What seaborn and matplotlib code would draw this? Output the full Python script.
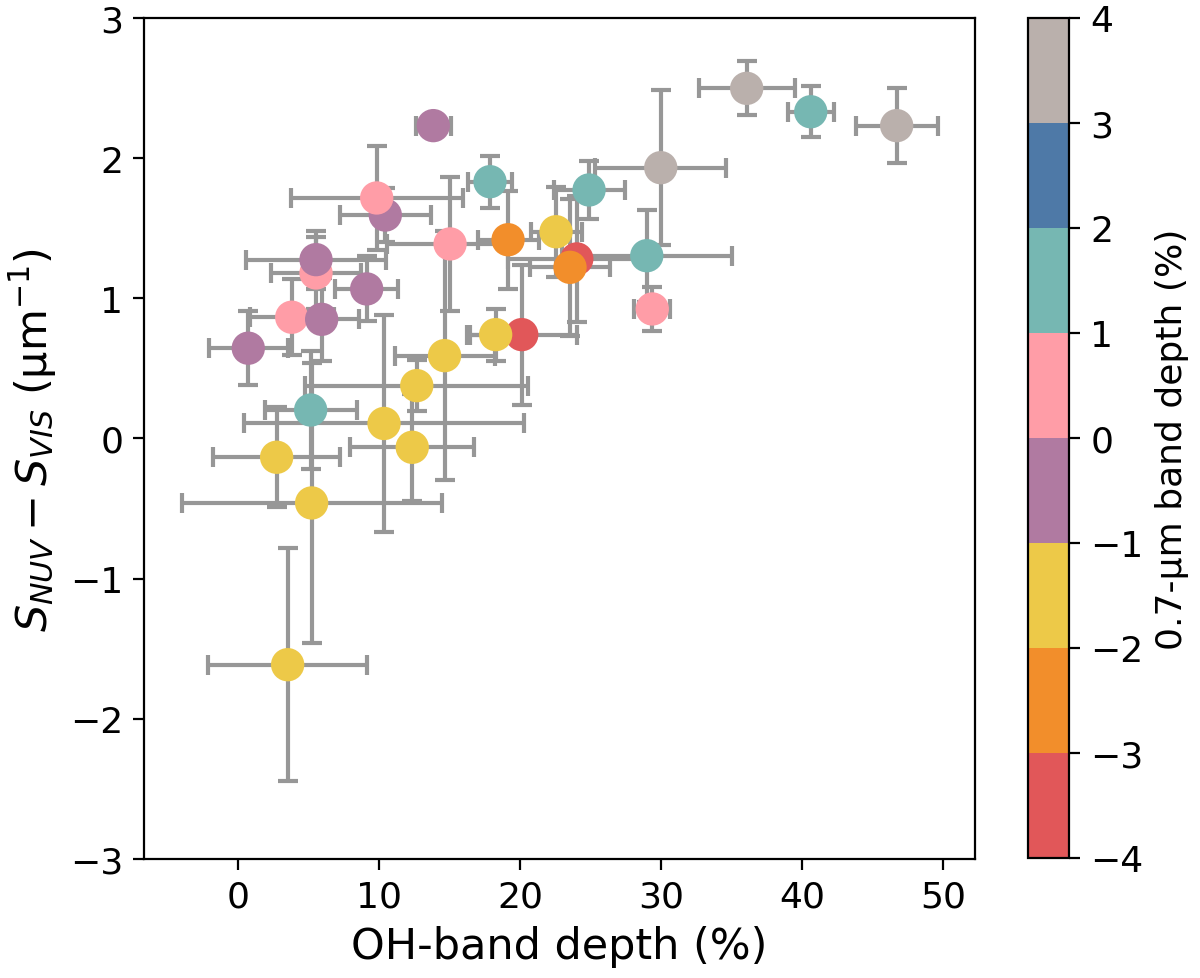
import numpy as np
import pandas as pd
import seaborn as sns
import matplotlib
matplotlib.use('Agg')
import matplotlib.pyplot as plt
from matplotlib.colors import ListedColormap, BoundaryNorm
from matplotlib.cm import ScalarMappable

# OH-band depth (%) and its error
oh_depth = [0.75, 3.83, 5.95, 5.55, 5.55, 9.14, 10.46, 9.85, 15.05, 13.86,
            5.17, 2.76, 5.24, 3.54, 10.37, 12.69, 12.37, 14.66, 20.13, 18.28,
            22.56, 19.16, 24.03, 23.55, 17.88, 24.90, 28.99, 29.38, 29.98, 36.07,
            40.61, 46.70]
oh_err = [2.79, 2.96, 2.67, 3.22, 4.96, 2.22, 3.21, 6.10, 4.47, 1.24,
          3.25, 4.51, 9.21, 5.63, 9.92, 7.91, 4.41, 3.54, 3.90, 1.82,
          1.81, 2.16, 4.87, 2.86, 1.59, 2.52, 6.02, 1.28, 4.64, 3.40,
          1.63, 2.91]

# spectral slope difference S_NUV - S_VIS (um^-1) and its error
slope_diff = [0.644, 0.865, 0.850, 1.181, 1.276, 1.067, 1.594, 1.716, 1.388, 2.232,
              0.203, -0.134, -0.460, -1.614, 0.107, 0.377, -0.063, 0.591, 0.741, 0.741,
              1.475, 1.418, 1.281, 1.221, 1.832, 1.773, 1.304, 0.924, 1.932, 2.498,
              2.331, 2.232]
slope_err = [0.264, 0.273, 0.295, 0.255, 0.207, 0.232, 0.193, 0.373, 0.48, 0.03,
             0.42, 0.357, 1.0, 0.83, 0.776, 0.182, 0.381, 0.89, 0.50, 0.185,
             0.32, 0.35, 0.45, 0.49, 0.185, 0.21, 0.328, 0.155, 0.555, 0.193,
             0.183, 0.268]

# 0.7-um band depth (%)
band07 = [-0.5, 0.5, -0.5, 0.5, -0.5, -0.5, -0.5, 0.5, 0.5, -0.5,
          1.5, -1.5, -1.5, -1.5, -1.5, -1.5, -1.5, -1.5, -3.5, -1.5,
          -1.5, -2.5, -3.5, -2.5, 1.5, 1.5, 1.5, 0.5, 3.5, 3.5,
          1.5, 3.5]

bin_edges = [-4, -3, -2, -1, 0, 1, 2, 3, 4]
bin_colors = ['#E15759', '#F28E2B', '#EDC948', '#B07AA1',
              '#FF9DA7', '#76B7B2', '#4E79A7', '#BAB0AC']

df = pd.DataFrame({'oh': oh_depth, 'oh_err': oh_err,
                   'slope': slope_diff, 'slope_err': slope_err,
                   'band07': band07})

cmap = ListedColormap(bin_colors)
norm = BoundaryNorm(bin_edges, cmap.N)
palette = {v: cmap(norm(v)) for v in sorted(set(band07))}

fig = plt.figure(figsize=(6, 4.895), dpi=200)
ax = fig.add_axes([0.12, 0.1216, 0.6925, 0.859])
cax = fig.add_axes([0.8564, 0.1226, 0.0347, 0.858])

# error bars underneath the markers
ax.errorbar(df['oh'], df['slope'], xerr=df['oh_err'], yerr=df['slope_err'],
            fmt='none', ecolor='#979797', elinewidth=1.5, capsize=3.5,
            capthick=1.5, zorder=1)

sns.scatterplot(data=df, x='oh', y='slope', hue='band07', palette=palette,
                s=144, edgecolor='none', linewidth=0, legend=False,
                ax=ax, zorder=3)

ax.set_xlim(-6.64, 52.25)
ax.set_ylim(-3, 3)
ax.set_xticks([0, 10, 20, 30, 40, 50])
ax.set_yticks([-3, -2, -1, 0, 1, 2, 3])
ax.tick_params(labelsize=13, length=4)
ax.set_xlabel('OH-band depth (%)', fontsize=15.5)
ax.set_ylabel(r'$S_{NUV} - S_{VIS}$ (µm$^{-1}$)', fontsize=15.5)

sm = ScalarMappable(norm=norm, cmap=cmap)
cb = fig.colorbar(sm, cax=cax, ticks=bin_edges)
cb.ax.tick_params(labelsize=13, length=4)
cb.set_label('0.7-µm band depth (%)', fontsize=13)

fig.savefig('out.png', dpi=200)
